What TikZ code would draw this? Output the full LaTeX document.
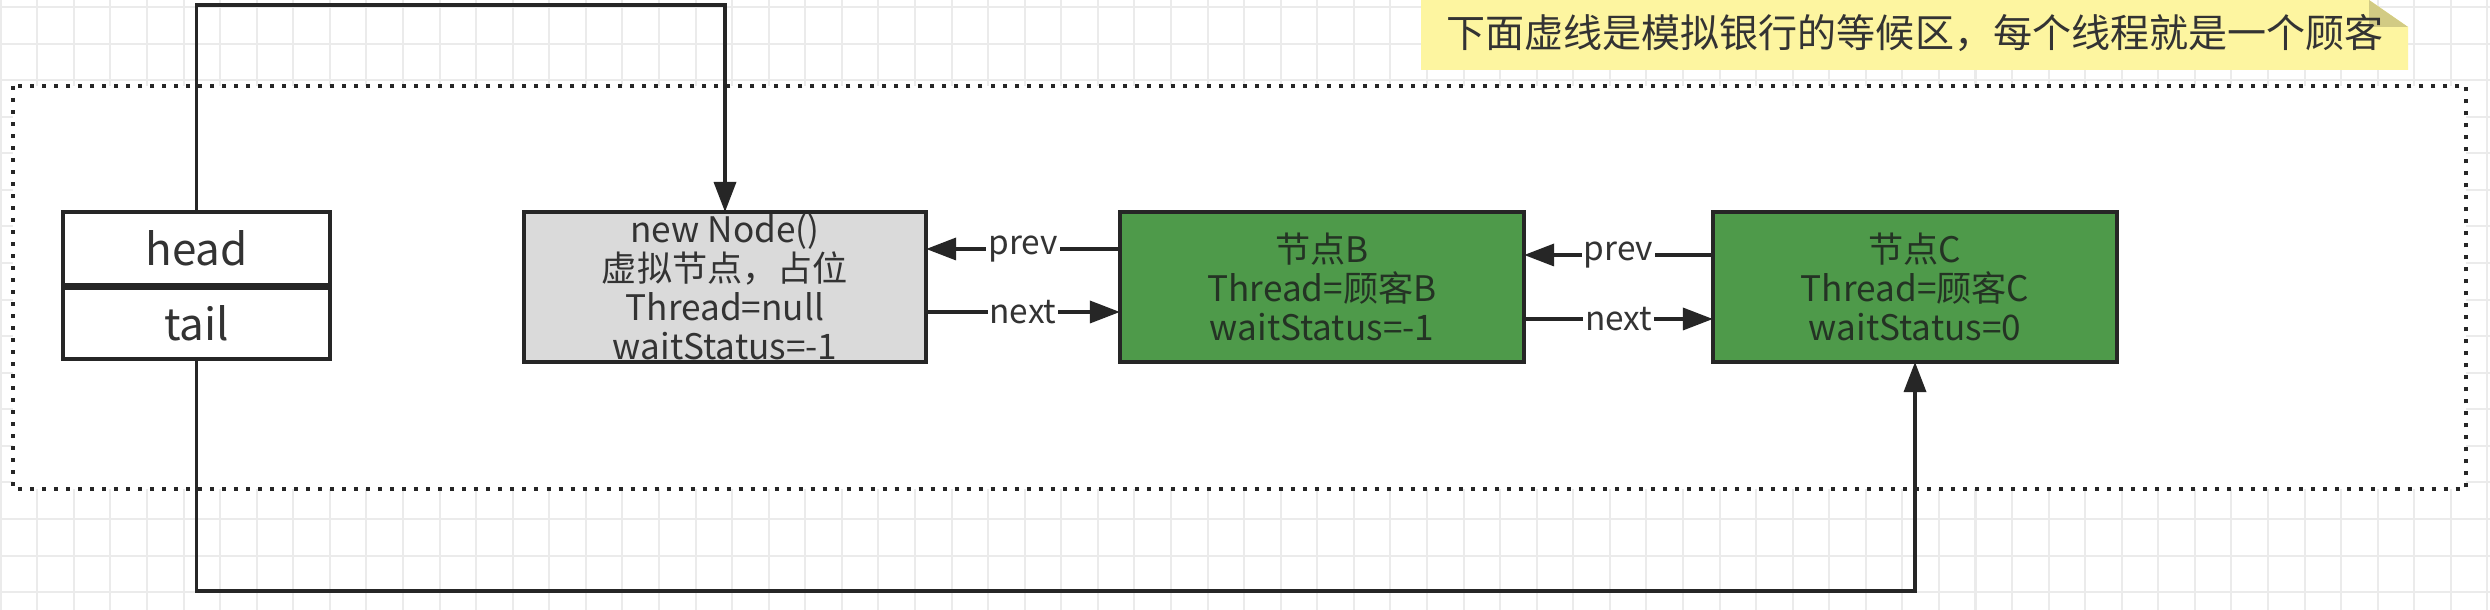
\documentclass[tikz,border=0pt]{standalone}
\usepackage{fontspec}
\setmainfont{Noto Sans CJK SC}
\usetikzlibrary{arrows.meta}
\definecolor{gridc}{HTML}{EBEBEB}
\definecolor{linec}{HTML}{262626}
\definecolor{txtc}{HTML}{333333}
\definecolor{grayfill}{HTML}{DADADA}
\definecolor{greenfill}{HTML}{4E9A4A}
\definecolor{greentxt}{HTML}{243324}
\definecolor{notefill}{HTML}{FDF5A0}
\definecolor{foldfill}{HTML}{D2CB84}
\tikzset{
  gridline/.style={draw=gridc, line width=0.02cm},
  box/.style={draw=linec, line width=0.045cm, rectangle, inner sep=0pt, outer sep=0pt, align=center},
  htbox/.style={box, fill=white, minimum width=2.67cm, text=txtc, font=\fontsize{12.5}{14}\selectfont},
  graybox/.style={box, fill=grayfill, minimum width=4.02cm, minimum height=1.5cm, text=txtc, font=\fontsize{10}{11.1}\selectfont},
  greenbox/.style={box, fill=greenfill, minimum width=4.04cm, minimum height=1.5cm, text=greentxt, font=\fontsize{10}{11.1}\selectfont},
  conn/.style={draw=linec, line width=0.035cm, -{Triangle[length=0.3cm,width=0.22cm]}},
  lbl/.style={fill=white, inner sep=0.02cm, text=txtc, font=\fontsize{9.5}{11}\selectfont},
  zone/.style={draw=linec, line width=0.04cm, dash pattern=on 0.04cm off 0.08cm, fill=white},
}
\begin{document}
\begin{tikzpicture}[x=0.01cm,y=-0.01cm]
\useasboundingbox (0,0) rectangle (2490,610);
\fill[white] (0,0) rectangle (2490,610);
% background grid
\foreach \k in {0,...,68} {
  \pgfmathsetmacro\xx{0.7+36.57*\k}
  \draw[gridline] (\xx,0) -- (\xx,610);
}
\foreach \k in {0,...,16} {
  \pgfmathsetmacro\yy{7+36.57*\k}
  \draw[gridline] (0,\yy) -- (2490,\yy);
}
% waiting zone
\draw[zone] (13,86) rectangle (2466,489);
% note
\fill[notefill] (1421,0) -- (2369,0) -- (2408,27) -- (2408,70) -- (1421,70) -- cycle;
\fill[foldfill] (2369,0) -- (2369,27) -- (2408,27) -- cycle;
\node[text=txtc, font=\fontsize{11.1}{13}\selectfont, inner sep=0pt] (note) at (1915,33) {下面虚线是模拟银行的等候区，每个线程就是一个顾客};
% head / tail
\node[htbox, minimum height=0.73cm] (head) at (196.5,248.5) {head};
\node[htbox, minimum height=0.71cm] (tail) at (196.5,323.5) {tail};
% nodes
\node[graybox] (gray) at (725,287) {new Node()\\虚拟节点，占位\\Thread=null\\waitStatus=-1};
\node[greenbox] (B) at (1322,287) {节点B\\Thread=顾客B\\waitStatus=-1};
\node[greenbox] (C) at (1915,287) {节点C\\Thread=顾客C\\waitStatus=0};
% helper rows
\coordinate (p1) at (0,249);
\coordinate (n1) at (0,312);
\coordinate (p2) at (0,255);
\coordinate (n2) at (0,319);
\coordinate (topy) at (0,5);
\coordinate (boty) at (0,591);
% prev / next
\draw[conn] (B.west |- p1) -- node[lbl] {prev} (gray.east |- p1);
\draw[conn] (gray.east |- n1) -- node[lbl] {next} (B.west |- n1);
\draw[conn] (C.west |- p2) -- node[lbl] {prev} (B.east |- p2);
\draw[conn] (B.east |- n2) -- node[lbl] {next} (C.west |- n2);
% head and tail pointers
\draw[conn] (head.north) -- (head.north |- topy) -- (gray.north |- topy) -- (gray.north);
\draw[conn] (tail.south) -- (tail.south |- boty) -- (C.south |- boty) -- (C.south);
\end{tikzpicture}
\end{document}
